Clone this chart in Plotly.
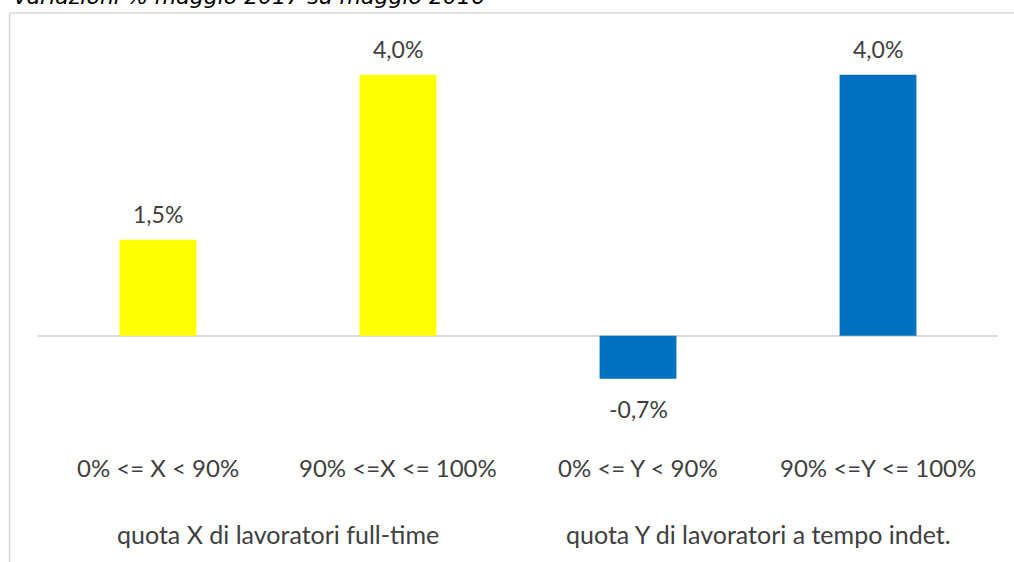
import plotly.graph_objects as go

categories = ["0% <= X < 90%", "90% <=X <= 100%", "0% <= Y < 90%", "90% <=Y <= 100%"]
values = [1.47, 4.0, -0.66, 4.0]
value_labels = ["1,5%", "4,0%", "-0,7%", "4,0%"]
colors = ["#FFFF00", "#FFFF00", "#0070C0", "#0070C0"]
groups = ["quota X di lavoratori full-time", "quota Y di lavoratori a tempo indet."]
title = "Variazioni % maggio 2017 su maggio 2016"

W, H = 1014, 562
L, R, T, B = 38, 16, 42.4, 160.75
FONT = "Lato, Carlito, Calibri, sans-serif"
GRAY = "#404040"

pw, ph = W - L - R, H - T - B
def px(xp):
    return (xp - L) / pw
def py(yp):
    return (H - B - yp) / ph

xs = list(range(len(categories)))
fig = go.Figure()
fig.add_trace(go.Bar(x=xs, y=values, marker=dict(color=colors, line=dict(width=0)),
                     width=0.32, hoverinfo="skip"))

ann = []
for x, v, lab in zip(xs, values, value_labels):
    ann.append(dict(x=x, y=v, xref="x", yref="y", text=lab, showarrow=False,
                    yshift=26 if v >= 0 else -30,
                    font=dict(family=FONT, size=23, color=GRAY)))
for x, c in zip(xs, categories):
    ann.append(dict(x=x, y=py(468), xref="x", yref="paper", text=c, yanchor="middle",
                    showarrow=False, font=dict(family=FONT, size=24, color=GRAY)))
for i, g in enumerate(groups):
    ann.append(dict(x=2 * i + 0.5, y=py(534), xref="x", yref="paper", text=g, yanchor="middle",
                    showarrow=False, font=dict(family=FONT, size=25, color=GRAY)))
ann.append(dict(x=px(487), y=py(-3), xref="paper", yref="paper", xanchor="right", yanchor="middle",
                text="<i>" + title + "</i>", showarrow=False,
                font=dict(family="DejaVu Sans", size=22, color="#000000")))

fig.update_layout(
    width=W, height=H,
    margin=dict(l=L, r=R, t=T, b=B, pad=0),
    paper_bgcolor="white", plot_bgcolor="white",
    showlegend=False,
    annotations=ann,
    xaxis=dict(range=[-0.5, 3.5], showticklabels=False, showgrid=False, zeroline=False,
               showline=False, ticks=""),
    yaxis=dict(range=[-1.0, 4.5], showticklabels=False, showgrid=False, zeroline=True,
               zerolinecolor="#d9d9d9", zerolinewidth=1.5, showline=False, ticks=""),
    shapes=[
        dict(type="line", xref="paper", yref="paper", x0=px(9.5), x1=px(1020), y0=py(13.5), y1=py(13.5),
             line=dict(color="#d9d9d9", width=1.5)),
        dict(type="line", xref="paper", yref="paper", x0=px(9.5), x1=px(9.5), y0=py(13.5), y1=py(570),
             line=dict(color="#d9d9d9", width=1.5)),
    ],
)
fig.write_html("out.html", config={"displayModeBar": False},
               post_script="document.body.style.margin='0px';")
